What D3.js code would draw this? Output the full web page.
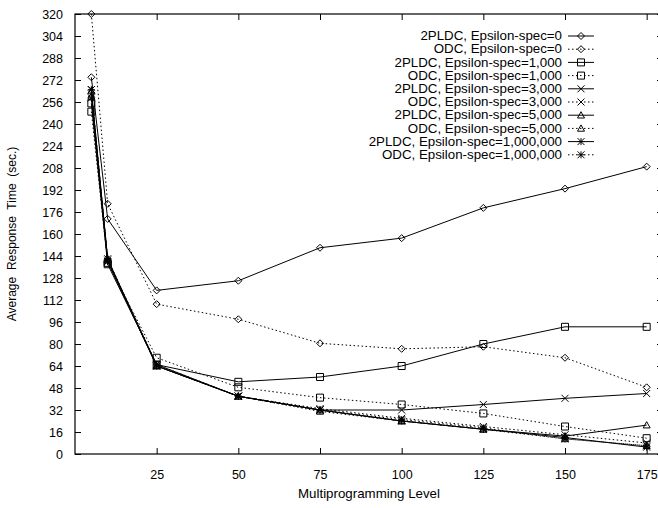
<!DOCTYPE html>
<html>
<head>
<meta charset="utf-8">
<script src="https://cdn.jsdelivr.net/npm/d3@7"></script>
<style>
  body { margin: 0; background: #fff; }
  svg text { font-family: "Liberation Sans", Arial, sans-serif; font-size: 12px; fill: #000; }
</style>
</head>
<body>
<div id="chart"></div>
<script>
// multiprogramming levels
const levels = [5, 10, 25, 50, 75, 100, 125, 150, 175];

// average response time (sec.) per series
const pldc0     = [274, 171, 119, 126, 150, 157, 179, 193, 209];
const odc0      = [320, 182, 109, 98, 80.5, 76.5, 78, 70, 48.5];
const pldc1000  = [255, 138, 65, 52.5, 56, 64, 80, 92.5, 92.5];
const odc1000   = [249, 139, 70, 48.5, 41, 36, 29.5, 20, 11.5];
const pldc3000  = [265, 141, 65, 42, 32, 32, 36, 40.5, 44];
const odc3000   = [262, 140, 64, 42, 33, 26, 20, 14, 8];
const pldc5000  = [264, 142, 64, 42, 32, 24, 18, 13, 21];
const odc5000   = [260, 141, 64, 42, 31, 24, 18, 11, 6];
const pldc1e6   = [259, 140, 64, 42, 32, 24, 18, 12, 5];
const odc1e6    = [265, 142, 65, 42, 32, 25, 19, 11, 6];

const xTicks = [25, 50, 75, 100, 125, 150, 175];
const yTicks = d3.range(0, 321, 16);

const series = [
  {name: '2PLDC, Epsilon-spec=0',         vals: pldc0,    mark: 'diamond',  dotted: false},
  {name: 'ODC, Epsilon-spec=0',           vals: odc0,     mark: 'diamond',  dotted: true},
  {name: '2PLDC, Epsilon-spec=1,000',     vals: pldc1000, mark: 'square',   dotted: false},
  {name: 'ODC, Epsilon-spec=1,000',       vals: odc1000,  mark: 'square',   dotted: true},
  {name: '2PLDC, Epsilon-spec=3,000',     vals: pldc3000, mark: 'cross',    dotted: false},
  {name: 'ODC, Epsilon-spec=3,000',       vals: odc3000,  mark: 'cross',    dotted: true},
  {name: '2PLDC, Epsilon-spec=5,000',     vals: pldc5000, mark: 'triangle', dotted: false},
  {name: 'ODC, Epsilon-spec=5,000',       vals: odc5000,  mark: 'triangle', dotted: true},
  {name: '2PLDC, Epsilon-spec=1,000,000', vals: pldc1e6,  mark: 'star',     dotted: false},
  {name: 'ODC, Epsilon-spec=1,000,000',   vals: odc1e6,   mark: 'star',     dotted: true},
];

const W = 658, H = 508;
const plot = {left: 75, right: 663, top: 14, bottom: 454};
const stretch = 1.11; // horizontal text in the original is a bit wide

const svg = d3.select('#chart').append('svg')
  .attr('width', W)
  .attr('height', H);

const x = d3.scaleLinear().domain([0, 180]).range([plot.left, plot.right]);
const y = d3.scaleLinear().domain([0, 320]).range([plot.bottom, plot.top]);

// axes: ticks point inward like gnuplot
const tickLen = 6;
svg.append('g')
  .attr('transform', `translate(0,${plot.bottom})`)
  .call(d3.axisBottom(x).tickValues(xTicks).tickSize(-tickLen).tickPadding(16))
  .call(g => g.select('.domain').remove());
svg.append('g')
  .attr('transform', `translate(0,${plot.top})`)
  .call(d3.axisTop(x).tickValues(xTicks).tickSize(-tickLen).tickFormat(''))
  .call(g => g.select('.domain').remove());
svg.append('g')
  .attr('transform', `translate(${plot.left},0)`)
  .call(d3.axisLeft(y).tickValues(yTicks).tickSize(-tickLen).tickPadding(12))
  .call(g => g.select('.domain').remove());
svg.append('g')
  .attr('transform', `translate(${plot.right},0)`)
  .call(d3.axisRight(y).tickValues(yTicks).tickSize(-tickLen).tickFormat(''))
  .call(g => g.select('.domain').remove());

svg.selectAll('.tick line').attr('stroke', '#000');
svg.selectAll('.tick text')
  .style('font-family', '"Liberation Sans", Arial, sans-serif')
  .style('font-size', '12.5px');

svg.append('rect')
  .attr('x', plot.left).attr('y', plot.top)
  .attr('width', plot.right - plot.left)
  .attr('height', plot.bottom - plot.top)
  .attr('fill', 'none').attr('stroke', '#000').attr('stroke-width', 1.2);

// axis titles
svg.append('text')
  .attr('transform', `translate(369,498) scale(${stretch},1)`)
  .attr('text-anchor', 'middle')
  .text('Multiprogramming Level');
svg.append('text')
  .attr('transform', `translate(16,${(plot.top + plot.bottom) / 2}) rotate(-90)`)
  .attr('text-anchor', 'middle')
  .style('white-space', 'pre')
  .text('Average  Response  Time  (sec.)');

// marker shapes as path strings centred on 0,0
function markPath(kind) {
  const r = 3.5;
  switch (kind) {
    case 'diamond':  return `M0,${-r}L${r},0L0,${r}L${-r},0Z`;
    case 'square':   return `M${-r},${-r}H${r}V${r}H${-r}Z`;
    case 'cross':    return `M${-r},${-r}L${r},${r}M${-r},${r}L${r},${-r}`;
    case 'triangle': return `M0,${-r}L${r},${r * 0.8}L${-r},${r * 0.8}Z`;
    case 'star':     return `M${-r},${-r}L${r},${r}M${-r},${r}L${r},${-r}M0,${-r}V${r}M${-r},0H${r}`;
  }
}

const line = d3.line()
  .x((d, i) => x(levels[i]))
  .y(d => y(d));

const chart = svg.append('g');
series.forEach(s => {
  chart.append('path')
    .attr('d', line(s.vals))
    .attr('fill', 'none')
    .attr('stroke', '#000')
    .attr('stroke-width', 1)
    .attr('stroke-dasharray', s.dotted ? '1.5,2.5' : null);
  chart.selectAll(null)
    .data(s.vals)
    .enter().append('path')
      .attr('transform', (d, i) => `translate(${x(levels[i])},${y(d)})`)
      .attr('d', markPath(s.mark))
      .attr('fill', 'none')
      .attr('stroke', '#000')
      .attr('stroke-width', 1);
});

// legend, top right, text right-aligned before the sample
const legend = svg.append('g');
const rowH = 13.2, row0 = 36;
series.forEach((s, i) => {
  const ry = row0 + i * rowH;
  legend.append('text')
    .attr('transform', `translate(562,${ry}) scale(${stretch},1)`)
    .attr('dy', '0.35em')
    .attr('text-anchor', 'end')
    .text(s.name);
  legend.append('line')
    .attr('x1', 568).attr('x2', 594)
    .attr('y1', ry).attr('y2', ry)
    .attr('stroke', '#000')
    .attr('stroke-dasharray', s.dotted ? '1.5,2.5' : null);
  legend.append('path')
    .attr('transform', `translate(581,${ry})`)
    .attr('d', markPath(s.mark))
    .attr('fill', 'none')
    .attr('stroke', '#000');
});
</script>
</body>
</html>
